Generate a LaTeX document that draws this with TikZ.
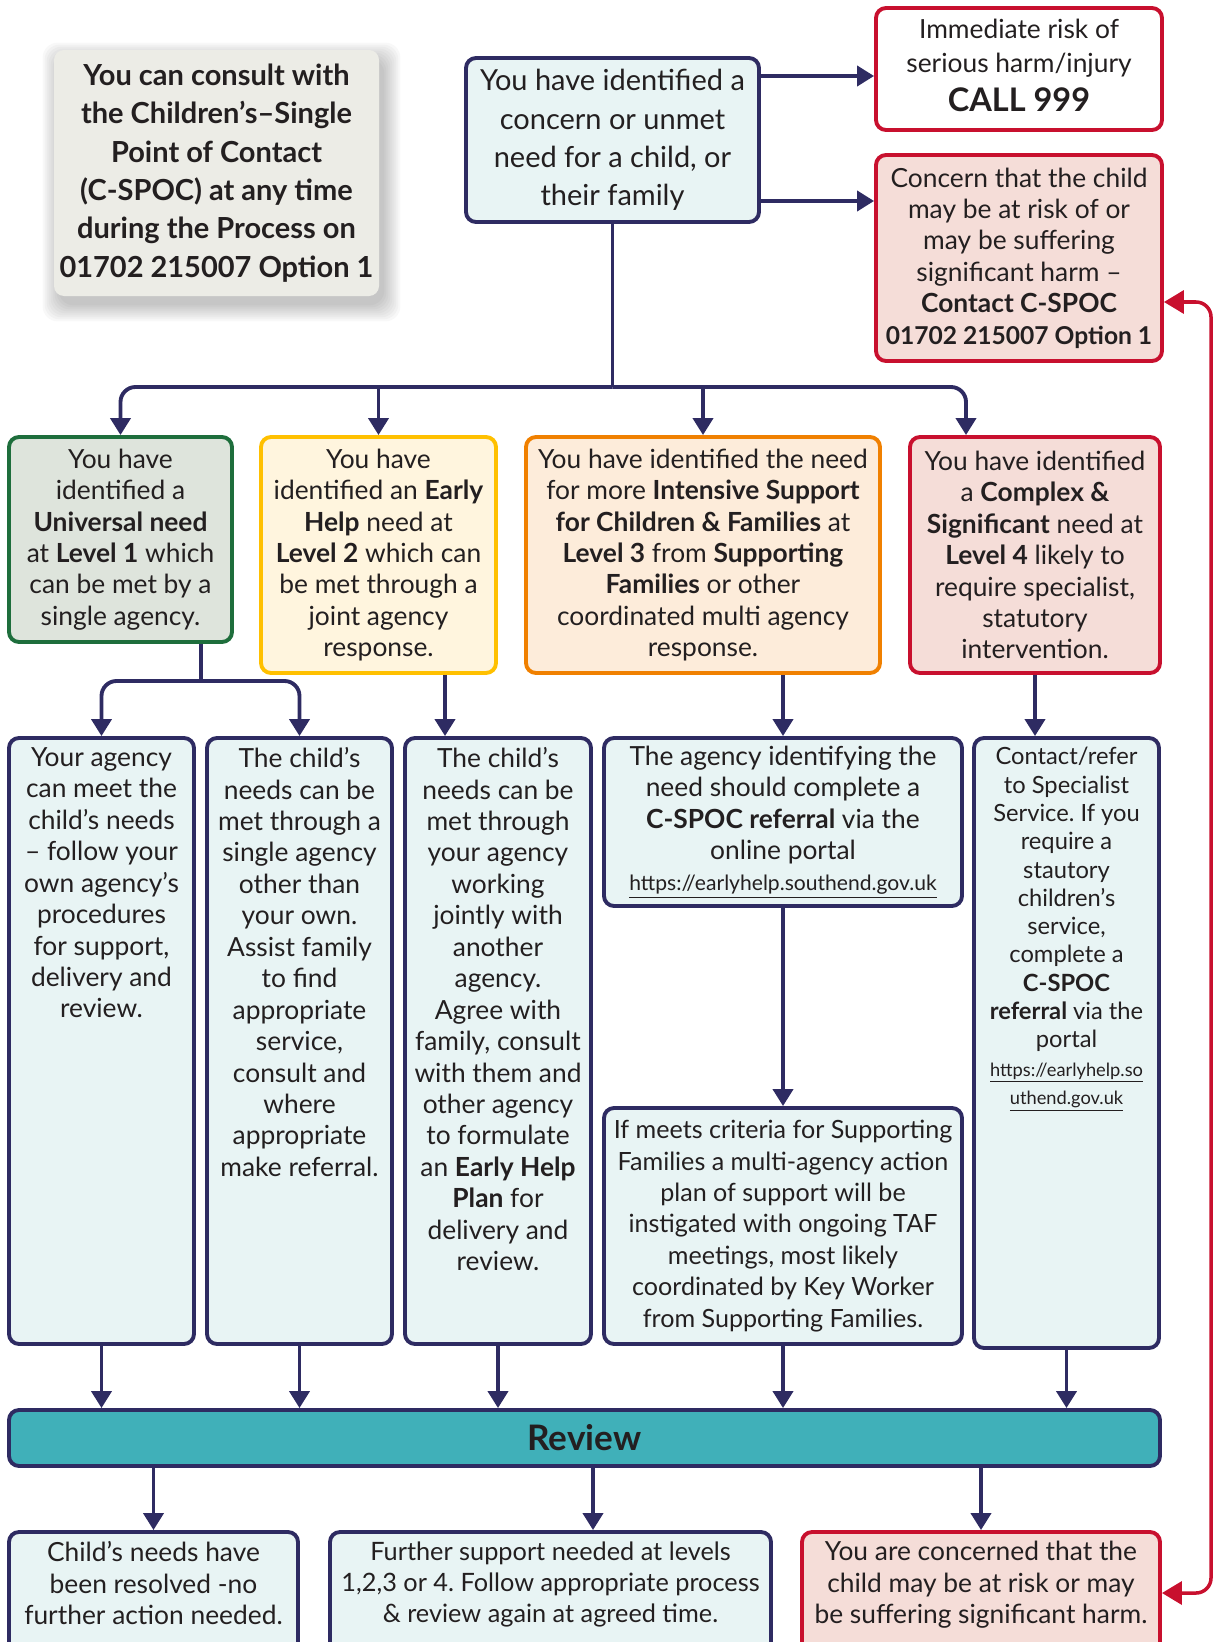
\documentclass[tikz,border=0pt]{standalone}
\usepackage{fontspec}
\setmainfont{Lato}
\frenchspacing
\usetikzlibrary{arrows.meta,positioning,fit,backgrounds}

\definecolor{navy}{RGB}{46,43,98}
\definecolor{inkdark}{RGB}{35,31,32}
\definecolor{paleblue}{RGB}{232,244,244}
\definecolor{alertred}{RGB}{200,16,46}
\definecolor{palepink}{RGB}{245,221,216}
\definecolor{leafgreen}{RGB}{30,110,60}
\definecolor{palegreen}{RGB}{222,228,220}
\definecolor{sungold}{RGB}{255,192,0}
\definecolor{palegold}{RGB}{255,245,222}
\definecolor{deeporange}{RGB}{240,128,0}
\definecolor{paleorange}{RGB}{253,236,218}
\definecolor{reviewteal}{RGB}{64,176,185}
\definecolor{consultgrey}{RGB}{236,236,230}

\newcommand{\fsmain}{\fontsize{15}{17.9}\selectfont}
\newcommand{\fsbig}{\fontsize{16.5}{21.8}\selectfont}
\newcommand{\fssmall}{\fontsize{13.5}{16.1}\selectfont}
\newcommand{\fsurl}{\fontsize{12}{14}\selectfont}
\newcommand{\fstiny}{\fontsize{10.4}{13}\selectfont}

\tikzset{
    mybox/.style={draw=navy,fill=paleblue,line width=2.2pt,rounded corners=0.2cm,inner sep=0pt},
    myredbox/.style={mybox,draw=alertred,fill=palepink},
    mytext/.style={inner sep=0pt,align=center,font=\fsmain,text=inkdark},
    mylink/.style={draw=navy,line width=2.2pt},
    myarrow/.style={mylink,-{Triangle[width=0.4cm,length=0.34cm]}},
    myredarrow/.style={draw=alertred,line width=2pt,
      {Triangle[width=0.46cm,length=0.4cm]}-{Triangle[width=0.46cm,length=0.4cm]}}
}

\begin{document}
\begin{tikzpicture}[x=0.02cm,y=-0.02cm]
  \useasboundingbox (0,0) rectangle (1217,1642);

  \node[fill=consultgrey,rounded corners=0.2cm,inner sep=0pt,fit={(54,50) (379,296)}] (consult) {};
  \begin{scope}[on background layer]
    \foreach \r in {0,2,...,16}
      \fill[black,opacity=0.028,rounded corners=0.3cm]
        ([shift={(5-\r,9-\r)}]consult.north west) rectangle ([shift={(5+\r,9+\r)}]consult.south east);
  \end{scope}
  \node[mytext,font=\fsbig\bfseries] (consulttext) at (consult)
    {You can consult with\\the Children’s–Single\\Point of Contact\\(C-SPOC) at any time\\during the Process on\\01702 215007 Option 1};

  \node[mybox,fit={(466,58) (759,222)}] (concern) {};
  \node[mytext,font=\fsbig] (concerntext) at (concern)
    {You have identified a\\concern or unmet\\need for a child, or\\their family};
  \node[myredbox,fill=white,fit={(876,8) (1162,130)}] (emergency) {};
  \node[mytext,font=\fontsize{15}{19.3}\selectfont,below=0.25cm of emergency.north] (emergencytext)
    {Immediate risk of\\serious harm/injury\\[3pt]{\fontsize{18.5}{22}\selectfont\bfseries CALL 999}};
  \node[myredbox,fit={(876,155) (1162,361)}] (cspoc) {};
  \node[mytext] (cspoctext) at (cspoc)
    {Concern that the child\\may be at risk of or\\may be suffering\\significant harm –\\\textbf{Contact C-SPOC}\\{\fontsize{14}{17.9}\selectfont\bfseries 01702 215007 Option 1}};

  \node[mybox,draw=leafgreen,fill=palegreen,fit={(9,437) (232,642)}] (universal) {};
  \node[mybox,draw=sungold,fill=palegold,fit={(261,437) (496,673)}] (early) {};
  \node[mybox,draw=deeporange,fill=paleorange,fit={(526,437) (880,673)}] (intensive) {};
  \node[myredbox,fit={(910,437) (1160,673)}] (complex) {};
  \node[mytext] (universaltext) at (universal)
    {You have\\identified a\\\textbf{Universal need}\\at \textbf{Level 1} which\\can be met by a\\single agency.};
  \node[mytext] (earlytext) at (early)
    {You have\\identified an \textbf{Early}\\\textbf{Help} need at\\\textbf{Level 2} which can\\be met through a\\joint agency\\response.};
  \node[mytext] (intensivetext) at (intensive)
    {You have identified the need\\for more \textbf{Intensive Support}\\\textbf{for Children \& Families} at\\\textbf{Level 3} from \textbf{Supporting}\\\textbf{Families} or other\\coordinated multi agency\\response.};
  \node[mytext] (complextext) at (complex)
    {You have identified\\a \textbf{Complex \&}\\\textbf{Significant} need at\\\textbf{Level 4} likely to\\require specialist,\\statutory\\intervention.};

  \node[mybox,fit={(9,738) (194,1344)}] (agency) {};
  \node[mybox,fit={(207,738) (392,1344)}] (single) {};
  \node[mybox,fit={(405,738) (591,1344)}] (joint) {};
  \node[mybox,fit={(604,738) (962,906)}] (referral) {};
  \node[mybox,fit={(604,1108) (962,1344)}] (families) {};
  \node[mybox,fit={(974,738) (1159,1348)}] (specialist) {};

  \node[mytext,below=0.22cm of agency.north] (agencytext)
    {Your agency\\can meet the\\child’s needs\\– follow your\\own agency’s\\procedures\\for support,\\delivery and\\review.};
  \node[mytext,below=0.22cm of single.north] (singletext)
    {The child’s\\needs can be\\met through a\\single agency\\other than\\your own.\\Assist family\\to find\\appropriate\\service,\\consult and\\where\\appropriate\\make referral.};
  \node[mytext,below=0.22cm of joint.north] (jointtext)
    {The child’s\\needs can be\\met through\\your agency\\working\\jointly with\\another\\agency.\\Agree with\\family, consult\\with them and\\other agency\\to formulate\\an \textbf{Early Help}\\\textbf{Plan} for\\delivery and\\review.};
  \node[mytext] (referraltext) at (referral)
    {The agency identifying the\\need should complete a\\\textbf{C-SPOC referral} via the\\online portal\\{\fsurl\underline{https://earlyhelp.southend.gov.uk}}};
  \node[mytext,font=\fontsize{14.3}{17.9}\selectfont] (familiestext) at (families)
    {If meets criteria for Supporting\\Families a multi-agency action\\plan of support will be\\instigated with ongoing TAF\\meetings, most likely\\coordinated by Key Worker\\from Supporting Families.};
  \node[mytext,font=\fssmall,below=0.22cm of specialist.north] (specialisttext)
    {Contact/refer\\to Specialist\\Service. If you\\require a\\stautory\\children's\\service,\\complete a\\\textbf{C-SPOC}\\\textbf{referral} via the\\portal\\{\fstiny\underline{https://earlyhelp.so}}\\{\fstiny\underline{uthend.gov.uk}}};

  \node[mybox,fill=reviewteal,fit={(9,1410) (1160,1466)}] (review) {};
  \node[mytext,font=\fontsize{20}{24}\selectfont\bfseries] (reviewtext) at (review) {Review};

  \node[mybox,fit={(9,1532) (298,1690)}] (resolved) {};
  \node[mybox,fit={(330,1532) (771,1690)}] (further) {};
  \node[myredbox,fit={(802,1532) (1160,1690)}] (harm) {};
  \node[mytext,below=0.22cm of resolved.north] (resolvedtext)
    {Child’s needs have\\been resolved -no\\further action needed.};
  \node[mytext,font=\fontsize{14.4}{17.9}\selectfont,below=0.22cm of further.north] (furthertext)
    {Further support needed at levels\\1,2,3 or 4. Follow appropriate process\\\& review again at agreed time.};
  \node[mytext,below=0.22cm of harm.north] (harmtext)
    {You are concerned that the\\child may be at risk or may\\be suffering significant harm.};

  \coordinate (trunk) at (612.5,387);
  \coordinate (complexdrop) at (966,387);
  \coordinate (unisplit) at (201,681);
  \coordinate (earlydrop) at (445,700);
  \coordinate (furtherdrop) at (593,1500);

  \draw[myarrow] (concern.east |- 0,76) -- (emergency.west |- 0,76);
  \draw[myarrow] (concern.east |- 0,201) -- (cspoc.west |- 0,201);
  \draw[mylink] (concern.south) -- (trunk);
  \draw[myarrow,rounded corners=0.3cm] (trunk) -| (universal.north);
  \draw[myarrow,rounded corners=0.3cm] (trunk) -| (complex.north -| complexdrop);
  \draw[myarrow] (trunk -| early.north) -- (early.north);
  \draw[myarrow] (trunk -| intensive.north) -- (intensive.north);

  \draw[mylink] (universal.south -| unisplit) -- (unisplit);
  \draw[myarrow,rounded corners=0.3cm] (unisplit) -| (agency.north);
  \draw[myarrow,rounded corners=0.3cm] (unisplit) -| (single.north);
  \draw[myarrow] (early.south -| earlydrop) -- (joint.north -| earlydrop);
  \draw[myarrow] (intensive.south -| referral.north) -- (referral.north);
  \draw[myarrow] (complex.south) -- (specialist.north -| complex.south);
  \draw[myarrow] (referral.south) -- (families.north);

  \foreach \n in {agency,single,joint,families,specialist}
    \draw[myarrow] (\n.south) -- (review.north -| \n.south);
  \foreach \n in {resolved,harm}
    \draw[myarrow] (review.south -| \n.north) -- (\n.north);
  \draw[myarrow] (review.south -| furtherdrop) -- (further.north -| furtherdrop);

  \draw[myredarrow,rounded corners=0.3cm] (harm.east |- 0,1593) -| (1211,302) -- (cspoc.east |- 0,302);
\end{tikzpicture}
\end{document}
